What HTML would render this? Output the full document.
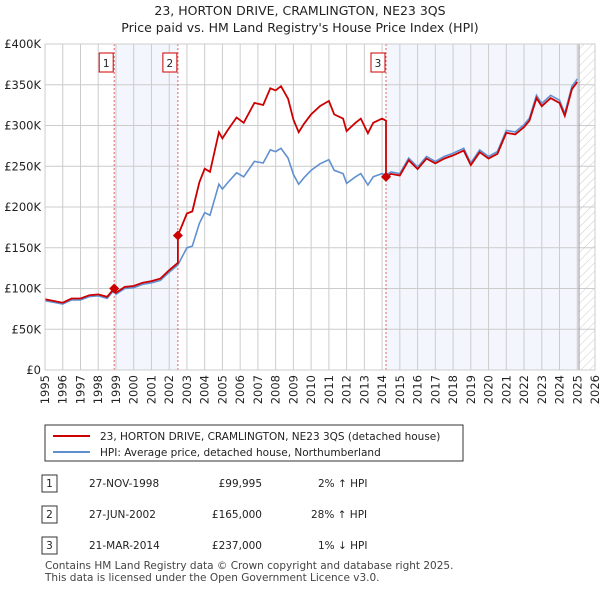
<!DOCTYPE html>
<html><head><meta charset="utf-8"><style>
body{margin:0;background:#fff;font-family:"Liberation Sans","DejaVu Sans",sans-serif;}
svg text{font-family:"DejaVu Sans","Liberation Sans",sans-serif;}
</style></head><body>
<svg id="c" width="600" height="590" viewBox="0 0 600 590" xmlns="http://www.w3.org/2000/svg">
<defs><pattern id="hatch" width="6" height="6" patternUnits="userSpaceOnUse" patternTransform="rotate(45)"><line x1="0" y1="0" x2="0" y2="6" stroke="#ccc" stroke-width="1"/></pattern></defs>
<text x="300" y="15" text-anchor="middle" font-size="12.5" fill="#222">23, HORTON DRIVE, CRAMLINGTON, NE23 3QS</text>
<text x="300" y="32" text-anchor="middle" font-size="12.5" fill="#222">Price paid vs. HM Land Registry's House Price Index (HPI)</text>
<g id="plot"></g>
<g>
<rect x="45" y="425" width="418" height="36" fill="#fff" stroke="#333" stroke-width="1"/>
<line x1="53" y1="436" x2="90" y2="436" stroke="#cc0000" stroke-width="2"/>
<text x="100" y="440" font-size="10.5" fill="#222">23, HORTON DRIVE, CRAMLINGTON, NE23 3QS (detached house)</text>
<line x1="53" y1="452" x2="90" y2="452" stroke="#6090d0" stroke-width="2"/>
<text x="100" y="456" font-size="10.5" fill="#222">HPI: Average price, detached house, Northumberland</text>
</g>
<g font-size="10.5" fill="#222">
<rect x="42" y="475" width="15" height="17" fill="#fff" stroke="#333"/><text x="49.5" y="487" text-anchor="middle">1</text>
<text x="89" y="487">27-NOV-1998</text><text x="262" y="487" text-anchor="end">£99,995</text><text x="318" y="487">2% ↑ HPI</text>
<rect x="42" y="506" width="15" height="17" fill="#fff" stroke="#333"/><text x="49.5" y="518" text-anchor="middle">2</text>
<text x="89" y="518">27-JUN-2002</text><text x="262" y="518" text-anchor="end">£165,000</text><text x="311" y="518">28% ↑ HPI</text>
<rect x="42" y="537" width="15" height="17" fill="#fff" stroke="#333"/><text x="49.5" y="549" text-anchor="middle">3</text>
<text x="89" y="549">21-MAR-2014</text><text x="262" y="549" text-anchor="end">£237,000</text><text x="318" y="549">1% ↓ HPI</text>
</g>
<text x="45" y="569" font-size="10.5" fill="#444">Contains HM Land Registry data © Crown copyright and database right 2025.</text>
<text x="45" y="581" font-size="10.5" fill="#444">This data is licensed under the Open Government Licence v3.0.</text>
</svg>
<script>
const hpiYears=[1995,1995.5,1996,1996.5,1997,1997.5,1998,1998.5,1998.9,1999,1999.5,2000,2000.5,2001,2001.5,2002,2002.49,2003,2003.3,2003.7,2004,2004.3,2004.8,2005,2005.3,2005.8,2006.2,2006.8,2007.3,2007.7,2008,2008.3,2008.7,2009,2009.3,2009.6,2010,2010.5,2011,2011.3,2011.8,2012,2012.5,2012.8,2013.2,2013.5,2014,2014.22,2014.5,2015,2015.5,2016,2016.5,2017,2017.5,2018,2018.6,2019,2019.5,2020,2020.5,2021,2021.5,2022,2022.3,2022.7,2023,2023.5,2024,2024.3,2024.7,2025.0];
const hpiValues=[85,83,81,86,86,90,91,88,98,93,100,101,105,107,110,120,129,150,152,180,193,190,228,222,230,242,237,256,254,270,268,272,260,240,228,236,245,253,258,245,241,229,237,241,227,237,241,239,243,241,260,249,262,256,262,266,272,254,270,262,268,294,292,301,309,337,327,337,331,315,348,357];
const saleYears=[1998.9,2002.49,2014.22];
const salePrices=[99995,165000,237000];
const saleRatios=[1.02,1.28,0.99];
const yTicks=[0,50,100,150,200,250,300,350,400];
const yTickLabels=["£0","£50K","£100K","£150K","£200K","£250K","£300K","£350K","£400K"];
const xStart=1995,xEnd=2026,dataEnd=2025.1;
const L=45,R=595,T=44,B=370;
const X=y=>L+(y-xStart)/(xEnd-xStart)*(R-L);
const Y=v=>B-v/400*(B-T);
const NS="http://www.w3.org/2000/svg";
const g=document.getElementById('plot');
function mk(t,a){const e=document.createElementNS(NS,t);for(const k in a)e.setAttribute(k,a[k]);g.appendChild(e);return e;}
let e;
e=mk('rect',{x:L,y:T,width:R-L,height:B-T,fill:'#fff'});


e=mk('rect',{x:X(saleYears[0]),y:T,width:X(saleYears[1])-X(saleYears[0]),height:B-T,fill:'#f3f6fd'});


e=mk('rect',{x:X(saleYears[2]),y:T,width:X(dataEnd)-X(saleYears[2]),height:B-T,fill:'#f3f6fd'});


e=mk('rect',{x:X(dataEnd),y:T,width:R-X(dataEnd),height:B-T,fill:'url(#hatch)'});


for(let i=0;i<yTicks.length;i++){
 e=mk('line',{x1:L,x2:R,y1:Y(yTicks[i]),y2:Y(yTicks[i]),stroke:'#ccc','stroke-width':1});
 
 
 e=mk('text',{x:L-4,y:Y(yTicks[i])+4,'text-anchor':'end','font-size':'11.5',fill:'#222'});
 e.textContent=yTickLabels[i];
 
 
}
for(let yr=xStart;yr<=xEnd;yr++){
 e=mk('line',{x1:X(yr),x2:X(yr),y1:T,y2:B,stroke:'#ccc','stroke-width':1});
 
 
 e=mk('text',{x:0,y:0,'text-anchor':'end','font-size':'11.5',fill:'#222',transform:`translate(${X(yr)+4},${B+5}) rotate(-90)`});
 e.textContent=yr;
 
 
}
e=mk('line',{x1:X(dataEnd),x2:X(dataEnd),y1:T,y2:B,stroke:'#999','stroke-width':1});


for(let i=0;i<saleYears.length;i++){
 e=mk('line',{x1:X(saleYears[i]),x2:X(saleYears[i]),y1:T,y2:B,stroke:'#e06060','stroke-width':1,'stroke-dasharray':'2,2'});
 
 
}
let pts=hpiYears.map((y,i)=>X(y).toFixed(1)+','+Y(hpiValues[i]).toFixed(1)).join(' ');
e=mk('polyline',{points:pts,fill:'none',stroke:'#6090d0','stroke-width':1.6});


function ratioAt(y){let r=saleRatios[0];for(let i=0;i<saleYears.length;i++)if(y>=saleYears[i])r=saleRatios[i];return r;}
let rp=[];
for(let i=0;i<hpiYears.length;i++){
 const y=hpiYears[i];
 for(let s=0;s<saleYears.length;s++){if(Math.abs(y-saleYears[s])<1e-6&&s>0){rp.push([X(y),Y(hpiValues[i]*saleRatios[s-1])]);}}
 rp.push([X(y),Y(hpiValues[i]*ratioAt(y))]);
}
e=mk('polyline',{points:rp.map(p=>p[0].toFixed(1)+','+p[1].toFixed(1)).join(' '),fill:'none',stroke:'#cc0000','stroke-width':1.8});


for(let i=0;i<saleYears.length;i++){
 const cx=X(saleYears[i]),cy=Y(salePrices[i]/1000);
 e=mk('polygon',{points:`${cx},${cy-5} ${cx+5},${cy} ${cx},${cy+5} ${cx-5},${cy}`,fill:'#cc0000'});
 
 
 e=mk('rect',{x:cx-15,y:53,width:14,height:19,fill:'#fff',stroke:'#cc0000'});
 
 
 e=mk('text',{x:cx-8,y:67,'text-anchor':'middle','font-size':'10.5',fill:'#222'});
 e.textContent=String(i+1);
 
 
}
e=mk('rect',{x:L,y:T,width:R-L,height:B-T,fill:'none',stroke:'#ccc'});


</script>
</body></html>
